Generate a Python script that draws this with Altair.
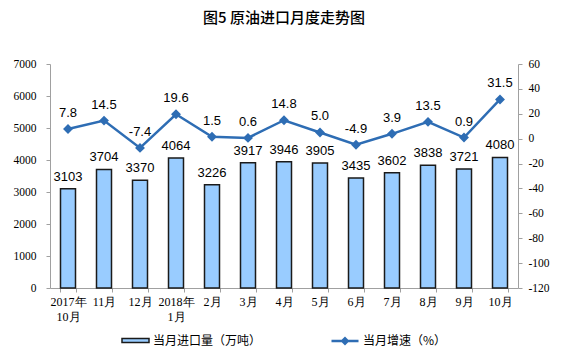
import altair as alt
import pandas as pd

categories = ["2017年|10月", "11月", "12月", "2018年|1月", "2月", "3月", "4月",
              "5月", "6月", "7月", "8月", "9月", "10月"]
imports = [3103, 3704, 3370, 4064, 3226, 3917, 3946, 3905, 3435, 3602, 3838, 3721, 4080]
growth = [7.8, 14.5, -7.4, 19.6, 1.5, 0.6, 14.8, 5.0, -4.9, 3.9, 13.5, 0.9, 31.5]

bar_name = "当月进口量（万吨）"
line_name = "当月增速（%）"

df = pd.DataFrame({"cat": categories, "imports": imports, "growth": growth,
                   "s1": bar_name, "s2": line_name})

serif = "Liberation Serif, Times New Roman, serif"
sans = "Liberation Sans, Arial"

x = alt.X("cat:N", sort=categories, title=None,
          scale=alt.Scale(paddingInner=0.58, paddingOuter=0.29),
          axis=alt.Axis(labelExpr="split(datum.label, '|')", labelAngle=0,
                        labelFont=serif, labelFontSize=12, labelColor="#000",
                        domainColor="#a0a0a0", tickColor="#a0a0a0", tickBand="extent",
                        tickSize=4, labelPadding=4, labelLineHeight=15))

ybar = alt.Y("imports:Q", title=None,
             scale=alt.Scale(domain=[0, 7000]),
             axis=alt.Axis(values=list(range(0, 7001, 1000)), grid=False, format="d",
                           labelFont=serif, labelFontSize=11.5, labelColor="#000",
                           domainColor="#a0a0a0", tickColor="#a0a0a0", tickSize=4,
                           labelPadding=10, orient="left"))

yline = alt.Y("growth:Q", title=None,
              scale=alt.Scale(domain=[-120, 60]),
              axis=alt.Axis(values=list(range(-120, 61, 20)), grid=False,
                            labelExpr="replace(datum.label, '\u2212', '-')",
                            labelFont=serif, labelFontSize=11.5, labelColor="#000",
                            domainColor="#a0a0a0", tickColor="#a0a0a0", tickSize=4,
                            labelPadding=6, orient="right"))

bars = alt.Chart(df).mark_bar(stroke="#1a1a1a", strokeWidth=1.5, size=15).encode(
    x=x, y=ybar,
    fill=alt.Fill("s1:N", scale=alt.Scale(range=["#99CCFF"]),
                  legend=alt.Legend(title=None, orient="none", legendX=71, legendY=262,
                                    symbolType="M-1,-0.15H1V0.15H-1Z",
                                    symbolSize=729, symbolStrokeColor="#1a1a1a",
                                    symbolStrokeWidth=1.5, labelOffset=3,
                                    labelFont="Noto Sans CJK SC", labelFontSize=12,
                                    labelColor="#000")))

bar_text = alt.Chart(df).mark_text(baseline="bottom", dy=-5, font=sans, fontSize=13,
                                   color="#000").encode(
    x=x, y=ybar,
    text=alt.Text("imports:Q", format="d"))

line = alt.Chart(df).mark_line(strokeWidth=2.5, point=alt.OverlayMarkDef(
    shape="diamond", size=50, filled=True, color="#2E6DB4")).encode(
    x=x, y=yline,
    stroke=alt.Stroke("s2:N", scale=alt.Scale(range=["#2E6DB4"]),
                      legend=alt.Legend(title=None, orient="none", legendX=280, legendY=262,
                                        symbolType="M-1,0H1M-0.2,0L0,-0.2L0.2,0L0,0.2Z",
                                        symbolSize=729, symbolStrokeWidth=2.5,
                                        symbolFillColor="#2E6DB4", labelOffset=3,
                                        labelFont="Noto Sans CJK SC", labelFontSize=12,
                                        labelColor="#000")))

line_text = alt.Chart(df).transform_calculate(
    lbl="replace(format(datum.growth, '.1f'), '\u2212', '-')"
).mark_text(baseline="bottom", dy=-9, font=sans, fontSize=13, color="#000").encode(
    x=x, y=yline, text="lbl:N")

left = alt.layer(bars, bar_text)
right = alt.layer(line, line_text)

chart = alt.layer(left, right).resolve_scale(
    y="independent", fill="independent", stroke="independent"
).properties(
    width=468, height=224,
    autosize=alt.AutoSizeParams(type="none"),
    padding={"left": 42, "top": 56, "right": 35, "bottom": 61},
    title=alt.TitleParams("图5  原油进口月度走势图", font="Noto Sans CJK SC",
                          fontSize=15, fontWeight=500, color="#000",
                          anchor="middle", offset=32)
).configure_view(stroke=None)

chart.save("out.html", embed_options={"renderer": "svg", "actions": False})
